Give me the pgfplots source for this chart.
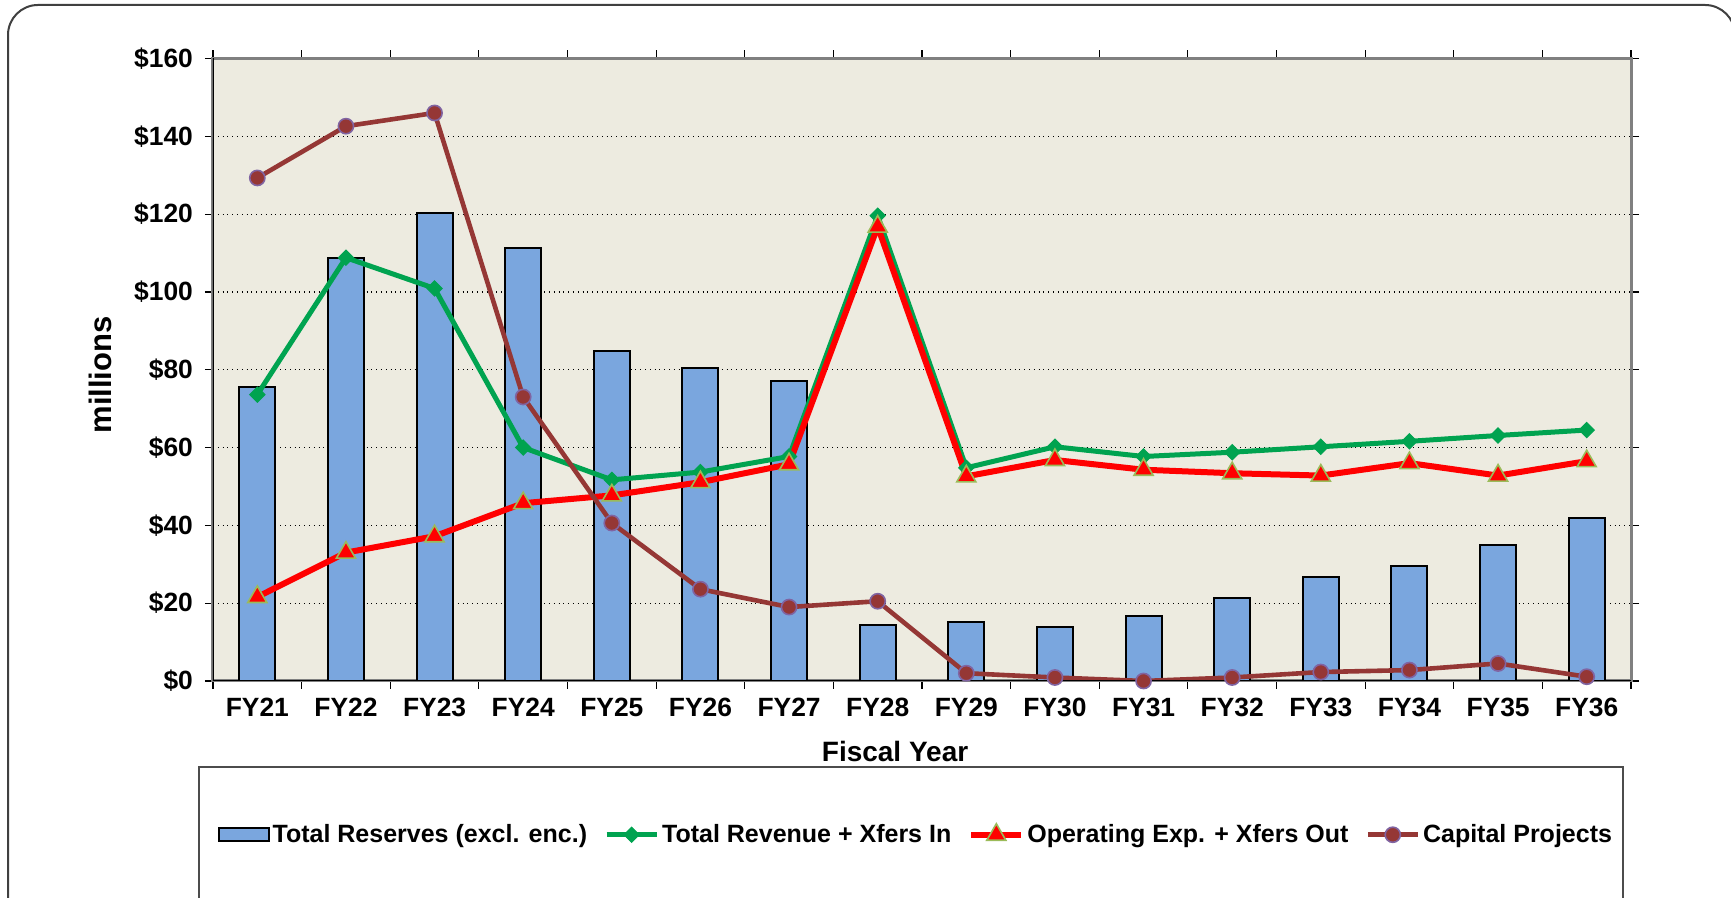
\documentclass[border=0pt]{standalone}
\usepackage{pgfplots}
\pgfplotsset{compat=1.18}
\usepackage{fontspec}
\setmainfont{Liberation Sans}
\definecolor{barblue}{RGB}{122,166,222}
\definecolor{bgc}{RGB}{237,235,224}
\definecolor{revgreen}{RGB}{0,163,80}
\definecolor{capbrown}{RGB}{149,55,53}
\definecolor{capedge}{RGB}{128,100,162}
\definecolor{opedge}{RGB}{155,187,89}
\definecolor{framegray}{RGB}{128,128,128}
\pgfplotsset{
  barleg/.style={legend image code/.code={\draw[##1] (0pt,-3.25pt) rectangle (25pt,3.25pt);}},
  lineleg/.style={legend image code/.code={\draw[##1, mark repeat=2, mark phase=2] plot coordinates {(0pt,0pt)(12.5pt,0pt)(25pt,0pt)};}},
}
\begin{document}
\begin{tikzpicture}
\useasboundingbox (0,0) rectangle (865.5pt,449pt);
\draw[black!75, line width=1pt, rounded corners=15pt] (4pt,-20pt) rectangle (867.5pt,446.5pt);
\draw[black!70, line width=0.9pt] (99.5pt,-20pt) rectangle (811.5pt,65.5pt);
\begin{axis}[
  at={(106.5pt,108.5pt)}, anchor=south west,
  scale only axis, width=709pt, height=311.25pt,
  xmin=-0.5, xmax=15.5, ymin=0, ymax=160,
  axis background/.style={fill=bgc},
  axis line style={draw=framegray, line width=1.5pt},
  ytick={0,20,...,160},
  yticklabels={\$0,\$20,\$40,\$60,\$80,\$100,\$120,\$140,\$160},
  xtick={0,...,15},
  xticklabels={FY21,FY22,FY23,FY24,FY25,FY26,FY27,FY28,FY29,FY30,FY31,FY32,FY33,FY34,FY35,FY36},
  minor xtick={-0.5,0.5,...,15.5},
  tick align=outside,
  major tick length=4pt, minor tick length=4pt,
  major x tick style={draw=none},
  minor x tick style={black, line width=0.6pt},
  major y tick style={black, line width=0.6pt},
  ymajorgrids,
  major grid style={black, dotted, line width=0.6pt},
  tick label style={font=\fontsize{13.2}{15}\selectfont\bfseries},
  yticklabel style={xshift=-2.5pt},
  xticklabel style={yshift=-1pt},
  xlabel={Fiscal Year},
  ylabel={millions},
  xlabel style={font=\fontsize{14}{16}\selectfont\bfseries, at={(axis description cs:0.481,-0.114)}, anchor=center},
  ylabel style={font=\fontsize{15.5}{17}\selectfont\bfseries, at={(axis description cs:-0.0797,0.4916)}, anchor=center},
  legend columns=4,
  legend style={at={(0.496,-0.247)}, anchor=center, draw=none, fill=none,
    font=\fontsize{12.5}{14}\selectfont\bfseries,
    nodes={inner sep=1.5pt},
    /tikz/every even column/.append style={column sep=7pt}},
]
\addplot[ybar, bar width=18pt, fill=barblue, draw=black, line width=1pt, barleg]
  coordinates {(0,75.6)(1,108.8)(2,120.2)(3,111.4)(4,84.7)(5,80.4)(6,77.0)(7,14.5)
  (8,15.1)(9,13.9)(10,16.8)(11,21.3)(12,26.7)(13,29.5)(14,34.9)(15,41.8)};
\addlegendentry{Total Reserves (excl. enc.)}
\addplot[revgreen, line width=2.5pt, mark=square*, mark size=2.7pt,
  mark options={rotate=45, fill=revgreen, draw=revgreen, line width=0.5pt}, lineleg]
  coordinates {(0,73.6)(1,108.8)(2,100.9)(3,60.0)(4,51.7)(5,53.7)(6,57.7)(7,119.6)
  (8,54.8)(9,60.2)(10,57.7)(11,58.8)(12,60.2)(13,61.6)(14,63.1)(15,64.5)};
\addlegendentry{Total Revenue + Xfers In}
\addplot[red, line width=3pt, mark=triangle*, mark size=5.5pt,
  mark options={fill=red, draw=opedge, line width=0.8pt}, lineleg]
  coordinates {(0,21.6)(1,33.0)(2,37.2)(3,45.7)(4,47.7)(5,51.1)(6,55.7)(7,116.8)
  (8,52.6)(9,56.8)(10,54.3)(11,53.4)(12,52.8)(13,56.0)(14,52.8)(15,56.5)};
\addlegendentry{Operating Exp. + Xfers Out}
\addplot[capbrown, line width=2.3pt, mark=*, mark size=3.8pt,
  mark options={fill=capbrown, draw=capedge, line width=0.8pt}, lineleg]
  coordinates {(0,129.3)(1,142.6)(2,146.0)(3,73.0)(4,40.6)(5,23.6)(6,19.0)(7,20.5)
  (8,2.0)(9,0.9)(10,0.0)(11,0.9)(12,2.3)(13,2.8)(14,4.5)(15,1.1)};
\addlegendentry{Capital Projects}
\draw[black, line width=1pt] (rel axis cs:0,1) -- (rel axis cs:0,0) -- (rel axis cs:1,0);
\end{axis}
\end{tikzpicture}
\end{document}
